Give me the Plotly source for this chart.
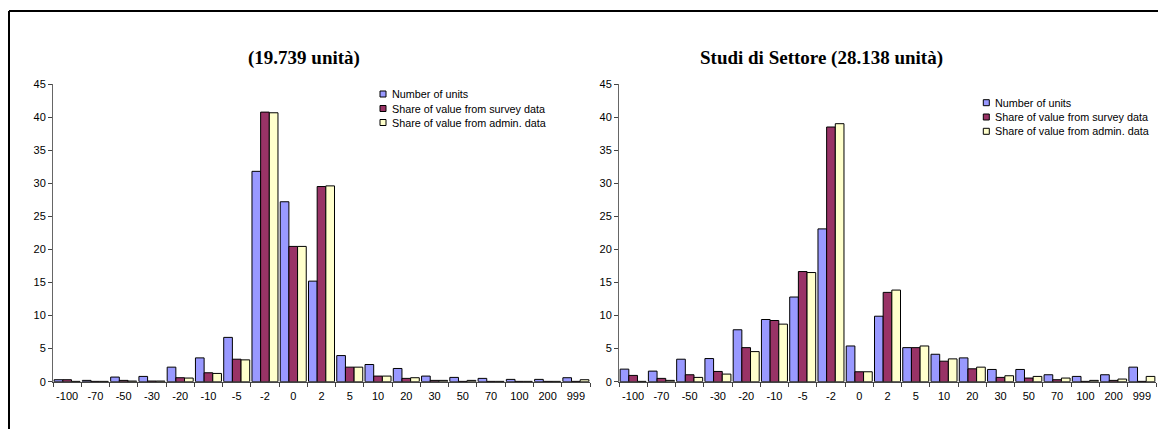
import plotly.graph_objects as go

categories = ["-100", "-70", "-50", "-30", "-20", "-10", "-5", "-2", "0", "2", "5",
              "10", "20", "30", "50", "70", "100", "200", "999"]

left_units = [0.3, 0.2, 0.7, 0.8, 2.2, 3.6, 6.7, 31.8, 27.2, 15.2, 3.95, 2.6, 2.0, 0.85, 0.65, 0.5, 0.35, 0.35, 0.6]
left_survey = [0.3, 0.05, 0.2, 0.1, 0.6, 1.35, 3.4, 40.75, 20.45, 29.5, 2.2, 0.85, 0.5, 0.2, 0.05, 0.05, 0.05, 0.05, 0.05]
left_admin = [0.05, 0.05, 0.1, 0.1, 0.55, 1.25, 3.3, 40.65, 20.45, 29.6, 2.2, 0.85, 0.6, 0.2, 0.2, 0.05, 0.05, 0.05, 0.3]

right_units = [1.9, 1.6, 3.4, 3.5, 7.85, 9.4, 12.8, 23.1, 5.4, 9.9, 5.15, 4.15, 3.6, 1.85, 1.85, 1.05, 0.8, 1.05, 2.2]
right_survey = [0.95, 0.5, 1.05, 1.55, 5.15, 9.25, 16.65, 38.5, 1.5, 13.5, 5.15, 3.1, 1.95, 0.65, 0.55, 0.3, 0.05, 0.2, 0.05]
right_admin = [0.05, 0.2, 0.65, 1.15, 4.55, 8.7, 16.5, 39.0, 1.5, 13.85, 5.4, 3.45, 2.2, 0.9, 0.8, 0.55, 0.2, 0.4, 0.8]

series_names = ["Number of units", "Share of value from survey data", "Share of value from admin. data"]
colors = ["#9999FF", "#993366", "#FFFFCC"]

titles = ["(19.739 unità)", "Studi di Settore (28.138 unità)"]
y_ticks = [0, 5, 10, 15, 20, 25, 30, 35, 40, 45]

# page has an 8px body margin; figure is sized to end at the window edge
OFF = 8
W, H = 1166 - OFF, 429 - OFF


def px(x):
    return (x - OFF) / W


def py(y):
    return (H - (y - OFF)) / H


fig = go.Figure()

for vals, name, col in zip([left_units, left_survey, left_admin], series_names, colors):
    fig.add_trace(go.Bar(x=categories, y=vals, name=name,
                         marker=dict(color=col, line=dict(color="#000000", width=1)),
                         xaxis="x", yaxis="y", showlegend=False))
for vals, name, col in zip([right_units, right_survey, right_admin], series_names, colors):
    fig.add_trace(go.Bar(x=categories, y=vals, name=name,
                         marker=dict(color=col, line=dict(color="#000000", width=1)),
                         xaxis="x2", yaxis="y2", showlegend=False))

ydom = [py(381.7), py(84)]
tickfont = dict(family="Liberation Sans, Arial", size=11, color="#000000")

xcommon = dict(type="category", tickson="boundaries", ticks="outside", ticklen=4, tickcolor="#444",
               showline=True, linecolor="#444", linewidth=1, showgrid=False, tickfont=tickfont,
               tickangle=0, automargin=False, fixedrange=True, ticklabelstandoff=4)
ycommon = dict(range=[0, 45], tickvals=y_ticks, ticks="outside", ticklen=4, tickcolor="#444",
               showline=True, linecolor="#666", linewidth=1, showgrid=False, zeroline=False,
               tickfont=tickfont, domain=ydom, automargin=False, fixedrange=True)

title_font = dict(family="Liberation Serif, Times New Roman, serif", size=19, color="#000")
annotations = [
    dict(text="<b>" + titles[0] + "</b>", x=px(303.5), y=py(58), xref="paper", yref="paper",
         xanchor="center", yanchor="middle", showarrow=False, font=title_font),
    dict(text="<b>" + titles[1] + "</b>", x=px(821), y=py(58), xref="paper", yref="paper",
         xanchor="center", yanchor="middle", showarrow=False, font=title_font),
]

shapes = [
    dict(type="line", xref="paper", yref="paper", x0=px(9), x1=px(9), y0=0, y1=py(11),
         line=dict(color="#000", width=2)),
    dict(type="line", xref="paper", yref="paper", x0=px(9), x1=1, y0=py(11), y1=py(11),
         line=dict(color="#000", width=2)),
]

# legends (one per panel): small swatch + label
legend_specs = [
    (380, 390, [94, 108.5, 122.5]),
    (983.3, 993.3, [102.7, 117, 131.3]),
]
for box_x, text_x, rows in legend_specs:
    for name, col, yc in zip(series_names, colors, rows):
        shapes.append(dict(type="rect", xref="paper", yref="paper",
                           x0=px(box_x), x1=px(box_x + 6), y0=py(yc + 3), y1=py(yc - 3),
                           fillcolor=col, line=dict(color="#000", width=1)))
        annotations.append(dict(text=name, x=px(text_x), y=py(yc), xref="paper", yref="paper",
                                xanchor="left", yanchor="middle", showarrow=False,
                                font=dict(family="Liberation Sans, Arial", size=10.8, color="#000")))

fig.update_layout(
    width=W, height=H,
    margin=dict(l=0, r=0, t=0, b=0),
    paper_bgcolor="#FFFFFF", plot_bgcolor="#FFFFFF",
    barmode="group", bargap=0.08, bargroupgap=0,
    xaxis=dict(domain=[px(53), px(590)], anchor="y", **xcommon),
    yaxis=dict(anchor="x", **ycommon),
    xaxis2=dict(domain=[px(619), px(1156)], anchor="y2", **xcommon),
    yaxis2=dict(anchor="x2", **ycommon),
    annotations=annotations,
    shapes=shapes,
    showlegend=False,
)

fig.write_html("out.html")
